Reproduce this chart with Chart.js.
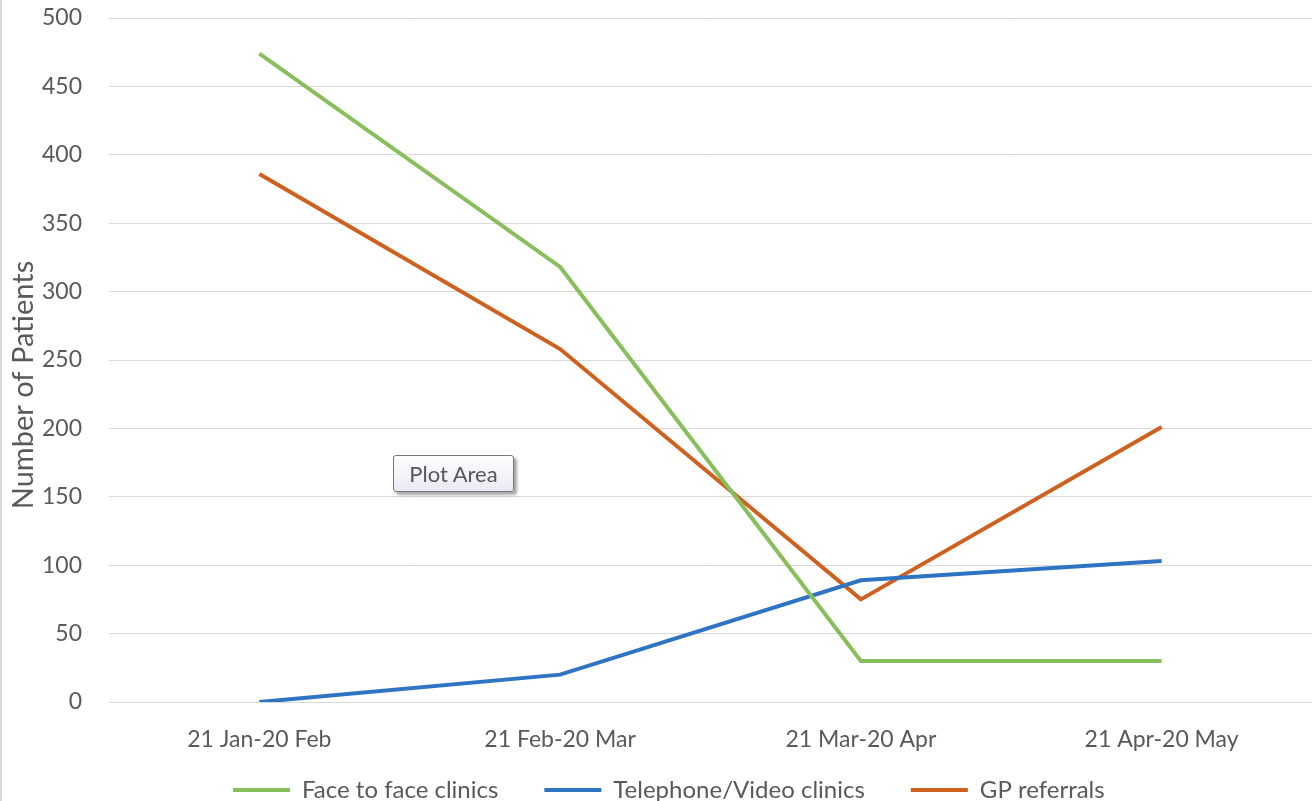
<!DOCTYPE html>
<html>
<head>
<meta charset="utf-8">
<script src="https://cdn.jsdelivr.net/npm/chart.js@4.4.1/dist/chart.umd.min.js"></script>
<style>
  html, body { margin: 0; padding: 0; background: #fff; overflow: hidden; }
  body { width: 1312px; height: 801px; position: relative; }
  #frame { position: absolute; left: 0; top: 0; width: 1312px; height: 844px; border-left: 2px solid #d9d9d9; box-sizing: border-box; }
  #plotTip {
    position: absolute; left: 393px; top: 455px; width: 121px; height: 37px;
    box-sizing: border-box; border: 1px solid #767676; border-radius: 3px;
    background: linear-gradient(#ffffff, #e9e9f3);
    box-shadow: 3px 3px 3px rgba(0,0,0,0.35);
    font: 22px Lato, "Open Sans", sans-serif; color: #575757;
    display: flex; align-items: center; justify-content: center;
  }
</style>
</head>
<body>
<div id="frame"><canvas id="patientsChart"></canvas></div>
<div id="plotTip">Plot Area</div>
<script>
const periods = ["21 Jan-20 Feb", "21 Feb-20 Mar", "21 Mar-20 Apr", "21 Apr-20 May"];
const faceToFace = [474, 318, 30, 30];
const telephoneVideo = [0, 20, 89, 103];
const gpReferrals = [386, 258, 75, 201];
const yTicks = [0, 50, 100, 150, 200, 250, 300, 350, 400, 450, 500];

const chartCanvas = document.querySelector("#patientsChart");
const textColor = "#595959";
const fontFamily = "Lato, 'Open Sans', sans-serif";
const legendGap = 46;
const yTitle = "Number of Patients";

function lineSeries(label, data, color) {
  return {
    label,
    data,
    borderColor: color,
    backgroundColor: color,
    borderWidth: 4,
    pointRadius: 0,
    tension: 0,
    fill: false,
  };
}

// Excel puts the legend a little left of centre and close under the labels
const legendPlacement = {
  id: "legendPlacement",
  afterLayout(chart) {
    const legend = chart.legend;
    const shiftX = 231 - legendGap - legend.left;
    const shiftY = 790 - legendGap - 12 - legend.top;
    legend.left += shiftX;
    legend.right += shiftX;
    legend.top += shiftY;
    legend.bottom += shiftY;
  },
};

// axis title sits a bit below the middle of the plot, like the original
const axisTitle = {
  id: "axisTitle",
  afterDraw(chart) {
    const ctx = chart.ctx;
    const area = chart.chartArea;
    ctx.save();
    ctx.translate(22, (area.top + area.bottom) / 2 + 25);
    ctx.rotate(-Math.PI / 2);
    ctx.fillStyle = textColor;
    ctx.font = `29px ${fontFamily}`;
    ctx.textAlign = "center";
    ctx.textBaseline = "middle";
    ctx.fillText(yTitle, 0, 0);
    ctx.restore();
  },
};

new Chart(chartCanvas, {
  type: "line",
  data: {
    labels: periods,
    datasets: [
      lineSeries("Face to face clinics", faceToFace, "#88bf5c"),
      lineSeries("Telephone/Video clinics", telephoneVideo, "#2e74c3"),
      lineSeries("GP referrals", gpReferrals, "#cf611f"),
    ],
  },
  plugins: [legendPlacement, axisTitle],
  options: {
    responsive: true,
    maintainAspectRatio: false,
    animation: false,
    layout: { padding: 0 },
    plugins: {
      tooltip: { enabled: false },
      legend: {
        position: "bottom",
        align: "start",
        labels: {
          color: textColor,
          font: { family: fontFamily, size: 24 },
          usePointStyle: true,
          pointStyle: "line",
          pointStyleWidth: 57,
          padding: legendGap,
        },
      },
    },
    scales: {
      x: {
        offset: true,
        grid: { display: false, drawTicks: false },
        border: { display: false },
        ticks: {
          color: textColor,
          font: { family: fontFamily, size: 23 },
          padding: 24,
          maxRotation: 0,
        },
        afterFit: (scale) => { scale.height = 62; },
      },
      y: {
        min: 0,
        max: 500,
        afterBuildTicks: (scale) => { scale.ticks = yTicks.map((v) => ({ value: v })); },
        grid: { color: "#d9d9d9", lineWidth: 1, drawTicks: false },
        border: { display: false },
        ticks: {
          color: textColor,
          font: { family: fontFamily, size: 23 },
          padding: 27,
        },
        afterFit: (scale) => {
          scale.width = 107;
          scale.paddingTop = 18;
          scale.paddingBottom = 0;
        },
      },
    },
  },
});
</script>
</body>
</html>
